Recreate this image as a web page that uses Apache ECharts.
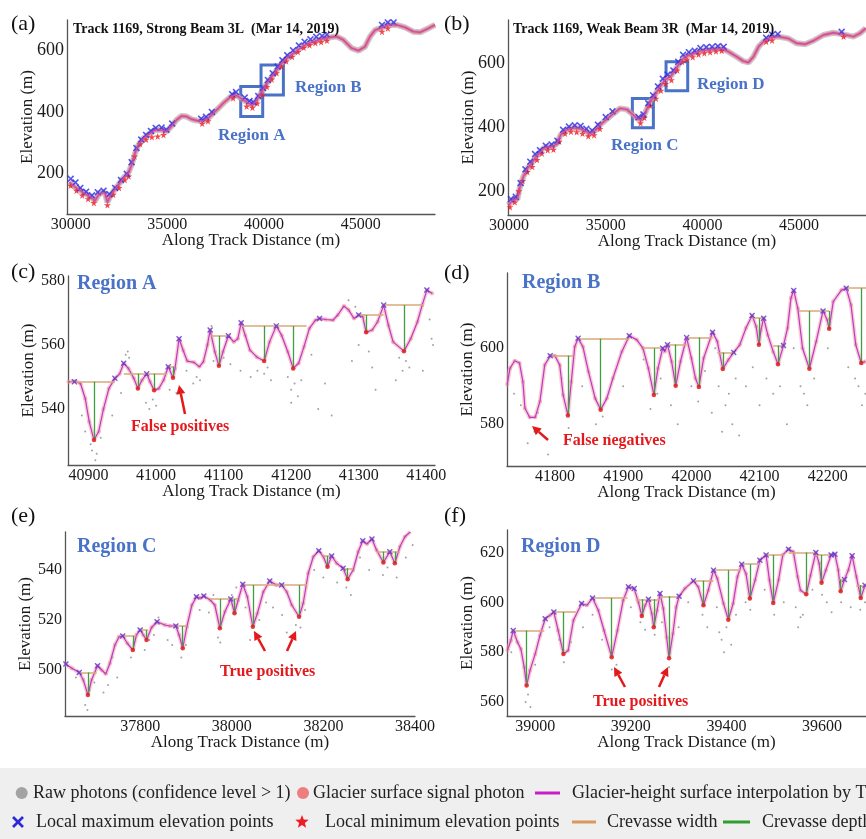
<!DOCTYPE html>
<html><head><meta charset="utf-8">
<script src="https://cdn.jsdelivr.net/npm/echarts@6/dist/echarts.min.js"></script>
<style>html,body{margin:0;padding:0;background:#fff}#c{width:866px;height:839px}</style>
</head><body><div id="c"></div><script>
// ---------------- DATA ----------------
// Panel (a) overview, Strong Beam 3L
const aTicksX = [30000, 35000, 40000, 45000];
const aTicksY = [200, 400, 600];
const aProfile = [[29930,170],[30310,151],[30655,137],[31000,124],[31260,110],[31430,129],[31600,137],[31775,135],[31900,105],[32035,124],[32200,140],[32465,162],[32720,184],[32980,200],[33150,227],[33325,265],[33500,292],[33760,314],[34100,330],[34360,341],[34710,341],[34960,336],[35220,354],[35480,374],[35740,387],[36000,385],[36260,376],[36515,372],[36860,371],[37120,380],[37380,396],[37640,412],[37900,429],[38240,448],[38500,456],[38670,450],[38930,439],[39190,429],[39395,422],[39620,439],[39880,466],[40140,493],[40400,515],[40660,537],[40915,559],[41170,575],[41520,591],[41860,608],[42210,621],[42550,629],[42900,637],[43330,643],[43760,646],[44100,635],[44530,608],[44880,600],[45220,613],[45480,646],[45740,667],[46000,673],[46430,684],[46860,684],[47290,676],[47720,662],[48070,660],[48500,673],[48840,684]];
const aMax = [[30000,182],[30250,170],[30500,152],[30800,140],[31100,128],[31400,138],[31700,143],[32000,132],[32300,152],[32600,178],[32900,198],[33150,236],[33400,282],[33650,310],[33900,325],[34150,338],[34400,348],[34700,349],[34950,342],[35250,362],[36750,378],[37000,384],[37300,400],[38350,458],[38550,465],[39000,447],[39250,436],[39450,432],[39700,452],[39950,478],[40200,504],[40450,526],[40700,548],[40950,569],[41200,585],[41500,601],[41800,617],[42100,629],[42400,637],[42700,645],[43000,648],[43250,652],[46100,684],[46400,692],[46700,692]];
const aMin = [[30000,160],[30300,143],[30600,128],[30900,116],[31200,103],[31900,96],[32200,130],[32500,152],[32800,178],[33000,190],[33300,255],[33600,295],[33900,310],[34200,318],[34500,320],[34800,325],[36800,362],[37100,370],[38400,445],[39100,418],[39400,414],[39650,428],[39900,455],[40150,482],[40400,506],[40650,527],[40900,548],[41150,565],[41450,580],[41750,596],[42050,610],[42350,618],[42650,625],[42950,628],[43250,633],[46100,662],[46400,673]];
const aBoxes = [[38793,385,39930,483],[39844,455,41000,553]];

// Panel (b) overview, Weak Beam 3R
const bTicksX = [30000, 35000, 40000, 45000];
const bTicksY = [200, 400, 600];
const bProfile = [[29960,156],[30224,174],[30430,174],[30570,214],[30740,245],[30950,271],[31170,287],[31400,308],[31600,320],[31775,334],[32000,338],[32200,339],[32465,347],[32670,376],[32980,393],[33330,398],[33670,396],[34020,386],[34190,379],[34450,389],[34700,407],[35050,425],[35400,443],[35740,459],[36090,456],[36340,443],[36600,428],[36810,422],[37030,443],[37290,480],[37550,501],[37800,527],[38070,548],[38410,563],[38760,595],[39100,621],[39530,631],[39960,640],[40480,644],[41000,647],[41340,637],[41770,621],[42120,607],[42380,603],[42640,621],[42900,652],[43150,668],[43500,681],[43930,684],[44450,678],[44880,663],[45310,660],[45740,671],[46260,689],[46770,696],[47290,691],[47810,684],[48140,694],[48450,710]];
const bMax = [[30100,175],[30350,182],[30600,225],[30850,268],[31100,292],[31350,316],[31600,328],[31900,342],[32200,346],[32500,358],[32800,392],[33100,402],[33400,406],[33700,404],[34000,395],[34300,390],[34600,408],[35000,432],[35350,450],[36700,432],[36950,440],[37200,475],[37450,500],[37700,528],[37950,552],[38200,565],[38500,578],[38750,605],[39000,627],[39300,635],[39600,640],[39900,648],[40200,651],[40500,652],[40800,654],[41100,652],[43300,680],[43600,690],[43900,692],[47200,699]];
const bMin = [[30050,150],[30300,165],[30500,200],[30700,232],[30950,260],[31200,276],[31450,298],[31700,318],[32000,328],[32300,330],[32600,355],[32900,380],[33200,386],[33500,385],[33800,380],[34100,372],[34400,375],[34700,395],[36800,413],[37000,430],[37300,468],[37600,490],[37850,515],[38100,536],[38400,548],[38700,578],[38950,605],[39200,612],[39500,620],[39800,628],[40100,632],[40400,635],[40700,638],[41000,640],[43300,668],[43600,672],[47300,684]];
const bBoxes = [[36379,398,37465,490],[38120,514,39240,605]];

// Panel (c) Region A
const cTicksX = [40900, 41000, 41100, 41200, 41300, 41400];
const cTicksY = [540, 560, 580];
const cProfile = [[40870,548.5],[40880,548.7],[40888,548],[40895,543.3],[40901,536],[40908,530.3],[40915,533],[40922,540],[40930,546.4],[40939,549.6],[40946,551],[40952,554.3],[40959,552.7],[40967,549.6],[40973,546.4],[40979,549],[40986,551],[40991,548.5],[40997,545.9],[41004,546.4],[41011,549],[41018,553.2],[41025,549.8],[41028,552.7],[41034,562],[41040,558.4],[41046,555],[41056,554.6],[41064,553.2],[41070,554.8],[41076,560],[41080,564.7],[41087,557.9],[41093,553.5],[41099,557.9],[41107,562.9],[41115,561],[41121,562],[41126,567],[41132,563],[41139,558.4],[41149,556.3],[41160,555],[41168,561],[41178,566],[41186,563],[41195,557.9],[41203,552.7],[41211,554.3],[41219,559.5],[41227,565.2],[41236,567.8],[41242,568.3],[41251,568],[41262,567.8],[41269,569.4],[41278,572.2],[41285,571],[41293,568.3],[41300,569.4],[41306,568.9],[41311,564],[41320,564.7],[41328,567.3],[41337,572.5],[41344,566.2],[41351,561],[41367,558.1],[41377,562],[41387,567.3],[41394,572.5],[41401,577.2],[41409,576.1]];
const cMax = [[40879,548.5],[40939,549.6],[40952,554.3],[40986,551],[41018,553.2],[41034,562],[41080,564.7],[41107,562.9],[41126,567],[41178,566],[41242,568.3],[41300,569.4],[41337,572.5],[41401,577.2]];
const cMin = [[40908,530.3],[40973,546.4],[40997,545.9],[41025,549.8],[41093,553.5],[41160,555],[41203,552.7],[41311,564],[41367,558.1]];
const cWidth = [[40872,40939,548.5],[40952,41016,551],[41018,41027,553.2],[41080,41107,562.9],[41126,41223,566],[41300,41337,569.4],[41337,41396,572.5]];
const cDepth = [[40908,548.5,530.3],[40973,551,546.4],[40997,551,545.9],[41025,553.2,549.8],[41093,562.9,553.5],[41160,566,555],[41203,566,552.7],[41311,569.4,564],[41367,572.5,558.1]];
const cRaw = [[40905,527],[40910,524],[40912,526],[40903,529],[40895,533],[40890,538],[40918,531],[40955,557],[40960,556],[40958,558],[40948,545],[40985,542],[40990,540],[41000,541],[40995,543],[41020,546],[41030,545],[41045,552],[41060,550],[41065,549],[41082,566],[41085,555],[41100,556],[41110,554],[41150,552],[41160,551],[41165,553],[41170,549],[41140,550],[41200,546],[41205,548],[41210,544],[41200,542],[41195,550],[41215,549],[41250,548],[41240,540],[41260,538],[41285,574],[41295,572],[41290,555],[41300,560],[41315,558],[41320,553],[41325,546],[41365,552],[41370,555],[41375,553],[41360,556],[41355,549],[41405,568],[41408,562],[41410,560],[41395,552],[41230,557],[41055,548],[40935,538],[41125,552]];

// Panel (d) Region B
const dTicksX = [41800, 41900, 42000, 42100, 42200];
const dTicksY = [580, 600];
const dProfile = [[41730,590.4],[41734,594.7],[41741,596.7],[41748,596.1],[41753,591.2],[41756,584.2],[41763,581.8],[41771,581.8],[41778,586],[41785,595.6],[41793,598],[41800,598],[41807,595.6],[41812,587.7],[41819,582.3],[41824,591.2],[41829,600.4],[41834,602.6],[41841,600.4],[41849,593.9],[41859,586.8],[41867,583.8],[41876,586.8],[41885,592.1],[41898,599.1],[41909,603.3],[41920,602.2],[41929,600],[41937,594.7],[41945,587.7],[41951,594.7],[41958,600],[41961,599.1],[41965,600.9],[41971,596.5],[41977,590.1],[41984,596.5],[41993,602.8],[42000,597.4],[42006,592.1],[42011,589.8],[42018,597.4],[42031,604.2],[42038,601.8],[42046,594.5],[42054,596.9],[42062,598.9],[42071,600.9],[42080,605.3],[42089,608.6],[42095,605.7],[42099,600.9],[42102,604.8],[42106,607.9],[42112,603.5],[42120,599.1],[42127,595.8],[42135,600.7],[42141,605.3],[42146,613.2],[42150,615.2],[42156,610.5],[42163,600],[42173,594.6],[42183,601.8],[42193,609.8],[42199,607.5],[42202,605.1],[42208,612.3],[42220,615.3],[42227,615.8],[42234,611.4],[42241,600.9],[42249,596.1],[42255,596.5]];
const dMax = [[41793,598],[41834,602.6],[41909,603.3],[41958,600],[41965,600.9],[41993,602.8],[42031,604.2],[42062,598.9],[42089,608.6],[42106,607.9],[42135,600.7],[42150,615.2],[42193,609.8],[42227,615.8]];
const dMin = [[41819,582.3],[41867,583.8],[41945,587.7],[41977,590.1],[42011,589.8],[42046,594.5],[42099,600.9],[42127,595.8],[42173,594.6],[42202,605.1],[42249,596.1]];
const dWidth = [[41793,41827,598],[41834,41909,602.5],[41929,41958,600],[41965,41993,601],[41993,42031,602.8],[42038,42062,598.9],[42089,42106,607.9],[42120,42135,600.7],[42158,42202,609.8],[42227,42256,615.8]];
const dDepth = [[41819,598,582.3],[41867,602.5,583.8],[41945,600,587.7],[41977,601,590.1],[42011,602.8,589.8],[42046,598.9,594.5],[42099,607.9,600.9],[42127,600.7,595.8],[42173,609.8,594.6],[42202,609.8,605.1],[42249,615.8,596.1]];
const dRaw = [[41760,575],[41770,578],[41790,572],[41820,579],[41822,576],[41870,582],[41880,577],[41940,584],[41950,588],[41970,585],[41980,580],[42010,586],[42030,583],[42040,590],[42045,578],[42050,585],[42060,580],[42070,577],[42080,590],[42090,595],[42110,592],[42120,588],[42150,600],[42160,590],[42170,585],[42180,592],[42200,600],[42230,595],[42245,590],[42250,585],[41740,588],[41750,585],[41840,590],[41900,590],[41930,597],[42000,590],[42100,585],[42140,580],[41810,592],[41860,580],[41955,592],[42020,594],[42035,600],[42055,588],[42065,592],[42130,590],[42165,588],[42240,592],[42255,588],[41775,583]];

// Panel (e) Region C
const eTicksX = [37800, 38000, 38200, 38400];
const eTicksY = [500, 520, 540];
const eProfile = [[37637,502.4],[37651,500.7],[37667,499],[37676,496],[37686,490],[37694,496],[37707,501.7],[37716,500],[37725,498.4],[37734,502.7],[37745,510],[37754,513.3],[37762,513.6],[37772,510.7],[37784,508],[37792,514],[37800,516],[37807,514],[37814,512],[37825,517],[37837,519.3],[37854,518],[37865,517.6],[37878,517.6],[37885,514],[37893,508.7],[37902,517.3],[37913,526],[37923,529.3],[37931,528.7],[37939,529.6],[37953,528],[37963,526],[37974,516.7],[37985,523.3],[37998,528.4],[38006,522.7],[38014,528],[38024,534.3],[38034,529.3],[38046,517.3],[38056,522.7],[38069,531.3],[38083,535.6],[38097,534],[38109,534],[38120,531.3],[38131,526],[38147,521.3],[38156,526.7],[38167,538.7],[38178,545.3],[38190,547.7],[38200,545.3],[38209,541.3],[38218,545.6],[38229,542.7],[38243,540.7],[38253,536.3],[38265,540],[38276,547.3],[38286,551.7],[38295,550.4],[38306,552.4],[38316,548],[38331,543],[38345,547.3],[38356,542.7],[38367,549.3],[38378,553.3],[38390,555.3]];
const eMax = [[37638,502.4],[37667,499],[37707,501.7],[37762,513.6],[37800,516],[37837,519.3],[37878,517.6],[37923,529.3],[37939,529.6],[37998,528.4],[38024,534.3],[38083,535.6],[38109,534],[38190,547.7],[38218,545.6],[38243,540.7],[38286,551.7],[38306,552.4],[38345,547.3]];
const eMin = [[37686,490],[37784,508],[37814,512],[37893,508.7],[37974,516.7],[38006,522.7],[38046,517.3],[38147,521.3],[38209,541.3],[38253,536.3],[38331,543],[38356,542.7]];
const eWidth = [[37667,37705,499],[37762,37792,513.6],[37800,37817,516],[37878,37902,517.6],[37953,37998,528.4],[37998,38014,528.4],[38024,38165,534],[38200,38218,545.6],[38243,38265,540.7],[38316,38367,547.3]];
const eDepth = [[37686,499,490],[37784,513.6,508],[37814,516,512],[37893,517.6,508.7],[37974,528.4,516.7],[38006,528.4,522.7],[38046,534,517.3],[38147,534,521.3],[38209,545.6,541.3],[38253,540.7,536.3],[38331,547.3,543],[38356,547.3,542.7]];
const eRaw = [[37680,486],[37685,484],[37690,492],[37700,495],[37720,491],[37740,505],[37780,505],[37810,508],[37820,512],[37840,521],[37860,512],[37890,505],[37900,510],[37950,523],[37970,513],[37975,511],[38000,530],[38010,533],[38030,525],[38050,515],[38060,520],[38090,525],[38110,522],[38140,518],[38150,517],[38180,540],[38200,537],[38230,535],[38250,533],[38280,545],[38300,540],[38330,538],[38360,537],[38380,545],[38395,550],[37750,497],[37870,510],[38120,515],[37660,497],[37730,494],[37830,514],[37930,524],[38040,512],[38075,527],[38160,524],[38260,530],[38340,541],[37960,530]];

// Panel (f) Region D
const fTicksX = [39000, 39200, 39400, 39600];
const fTicksY = [560, 580, 600, 620];
const fProfile = [[38942,580.7],[38949,584.7],[38954,588.7],[38963,584],[38970,581.3],[38977,574],[38982,566.6],[38989,572.6],[39000,579.3],[39010,586.7],[39021,593.4],[39031,594.8],[39039,596.1],[39048,588.7],[39059,579.3],[39069,580.7],[39080,592.8],[39097,599.5],[39108,598.8],[39120,601.7],[39132,596.8],[39144,588.7],[39160,578],[39172,588.7],[39184,600.8],[39195,606.2],[39207,605.5],[39216,600],[39223,594.5],[39230,598.8],[39237,601.2],[39244,595.4],[39248,590],[39255,596.8],[39261,603.5],[39268,597.5],[39275,586],[39280,577.6],[39288,587.4],[39295,598.1],[39301,602.4],[39313,605.5],[39331,608.6],[39341,606.2],[39352,598.8],[39362,604.8],[39373,612.9],[39381,609.5],[39394,599.5],[39404,593],[39414,599.5],[39423,610.2],[39432,615.3],[39441,611.5],[39449,601.5],[39460,608.9],[39470,616.9],[39483,619],[39490,608.9],[39498,599.7],[39509,608.9],[39518,619],[39530,621.3],[39540,620.3],[39549,610.2],[39555,604.8],[39567,603.2],[39576,610.9],[39587,620],[39594,615.6],[39599,607.8],[39608,612.9],[39619,619],[39627,619.3],[39634,612.9],[39639,604.4],[39647,609.1],[39655,612.9],[39663,618.7],[39672,610.2],[39681,601.7],[39690,606.8]];
const fMax = [[38954,588.7],[39021,593.4],[39039,596.1],[39097,599.5],[39120,601.7],[39195,606.2],[39207,605.5],[39237,601.2],[39261,603.5],[39301,602.4],[39331,608.6],[39373,612.9],[39432,615.3],[39470,616.9],[39483,619],[39530,621.3],[39587,620],[39619,619],[39627,619.3],[39647,609.1],[39663,618.7],[39690,606.8]];
const fMin = [[38982,566.6],[39059,579.3],[39160,578],[39223,594.5],[39248,590],[39280,577.6],[39352,598.8],[39404,593],[39449,601.5],[39498,599.7],[39567,603.2],[39599,607.8],[39639,604.4],[39681,601.7]];
const fWidth = [[38954,39019,588.7],[39039,39085,596.1],[39120,39193,601.7],[39210,39261,601.2],[39261,39301,602.4],[39331,39373,608.6],[39373,39430,612.9],[39432,39468,615.3],[39483,39520,619],[39530,39587,620],[39587,39619,619],[39634,39647,609.1],[39672,39690,606.8]];
const fDepth = [[38982,588.7,566.6],[39059,596.1,579.3],[39160,601.7,578],[39223,601.2,594.5],[39248,601.2,590],[39280,602.4,577.6],[39352,608.6,598.8],[39404,612.9,593],[39449,615.3,601.5],[39498,619,599.7],[39567,620,603.2],[39599,619,607.8],[39639,609.1,604.4],[39681,606.8,601.7]];
const fRaw = [[38950,580],[38980,560],[38985,563],[39000,575],[39050,585],[39060,576],[39100,590],[39140,585],[39160,573],[39170,575],[39200,598],[39220,592],[39250,587],[39280,574],[39300,590],[39320,600],[39350,595],[39360,590],[39380,598],[39390,585],[39395,580],[39400,590],[39420,595],[39440,600],[39450,597],[39480,605],[39500,595],[39520,600],[39545,598],[39550,590],[39560,595],[39580,605],[39600,603],[39620,596],[39640,600],[39660,598],[39680,597],[39690,600],[39030,590],[39120,595],[38990,558],[39075,584],[39230,589],[39265,592],[39385,588],[39410,583],[39555,594],[39610,600]];

// ---------------- CHART ----------------
const FONT = 'Liberation Serif';
const X_PATH = 'path://M0,1.6L1.6,0L5,3.4L8.4,0L10,1.6L6.6,5L10,8.4L8.4,10L5,6.6L1.6,10L0,8.4L3.4,5Z';
const STAR_PATH = 'path://M5,0L6.18,3.6L10,3.6L6.9,5.9L8.1,9.5L5,7.3L1.9,9.5L3.1,5.9L0,3.6L3.82,3.6Z';

const panels = [
  {grid:{left:67, top:20, width:368, height:194}, x:[29810,48840], y:[67,700], tx:aTicksX, ty:aTicksY, yf:18},
  {grid:{left:508, top:20, width:358, height:195}, x:[29948,48459], y:[125,736], tx:bTicksX, ty:bTicksY, yf:18},
  {grid:{left:68, top:276, width:367, height:189}, x:[40869.5,41413], y:[522.5,581.6], tx:cTicksX, ty:cTicksY, yf:16},
  {grid:{left:507, top:273, width:359, height:193}, x:[41729.7,42256], y:[569,619.8], tx:dTicksX, ty:dTicksY, yf:16},
  {grid:{left:65, top:532, width:350, height:184}, x:[37636,38400], y:[481.6,555.2], tx:eTicksX, ty:eTicksY, yf:16},
  {grid:{left:507, top:530, width:359, height:186}, x:[38941,39692], y:[554.4,629], tx:fTicksX, ty:fTicksY, yf:16}
];

const axisLineStyle = {color:'#555', width:1.3};
const plain = v => String(v);
const grid = panels.map(p => Object.assign({outerBoundsMode:'none', containLabel:false}, p.grid));
const xAxis = panels.map((p,i) => ({
  type:'value', gridIndex:i, min:p.x[0], max:p.x[1],
  axisLine:{show:true, onZero:false, lineStyle:axisLineStyle},
  axisTick:{show:false}, splitLine:{show:false},
  axisLabel:{customValues:p.tx, formatter:plain, fontFamily:FONT, fontSize:16, color:'#1a1a1a', margin:3, hideOverlap:false},
  name:'Along Track Distance (m)', nameLocation:'middle', nameGap:18, nameMoveOverlap:false,
  nameTextStyle:{fontFamily:FONT, fontSize:17, color:'#1a1a1a'}
}));
const yAxis = panels.map((p,i) => ({
  type:'value', gridIndex:i, min:p.y[0], max:p.y[1],
  axisLine:{show:true, onZero:false, lineStyle:axisLineStyle},
  axisTick:{show:false}, splitLine:{show:false},
  axisLabel:{customValues:p.ty, formatter:plain, fontFamily:FONT, fontSize:p.yf, color:'#1a1a1a', margin:3, hideOverlap:false},
  name:'Elevation (m)', nameLocation:'middle', nameGap:31, nameMoveOverlap:false,
  nameTextStyle:{fontFamily:FONT, fontSize:17, color:'#1a1a1a'}
}));

function overviewSeries(i, prof, maxs, mins, boxes){
  const ax = {xAxisIndex:i, yAxisIndex:i, silent:true, animation:false};
  return [
    Object.assign({type:'line', data:prof, symbol:'none', lineStyle:{color:'#9c9c9c', width:6, opacity:0.55}, z:1}, ax),
    Object.assign({type:'line', data:prof, symbol:'none', lineStyle:{color:'#f0849a', width:3.5}, z:2}, ax),
    Object.assign({type:'scatter', data:mins, symbol:STAR_PATH, symbolSize:7, itemStyle:{color:'#ec1c24'}, z:3}, ax),
    Object.assign({type:'scatter', data:maxs, symbol:X_PATH, symbolSize:7, itemStyle:{color:'#2b2be6'}, z:4}, ax),
    Object.assign({type:'line', data:prof, symbol:'none', lineStyle:{color:'#c24fa6', width:1.4}, z:5,
      markArea:{silent:true, itemStyle:{color:'rgba(0,0,0,0)', borderColor:'#4a73c8', borderWidth:3},
        data: boxes.map(b => [{xAxis:b[0], yAxis:b[1]}, {xAxis:b[2], yAxis:b[3]}])}}, ax)
  ];
}
function detailSeries(i, prof, maxs, mins, widths, depths, raw){
  const ax = {xAxisIndex:i, yAxisIndex:i, silent:true, animation:false};
  return [
    Object.assign({type:'scatter', data:raw, symbol:'circle', symbolSize:2, itemStyle:{color:'#6e6e6e', opacity:0.65}, z:1}, ax),
    Object.assign({type:'line', data:prof, symbol:'none', lineStyle:{color:'#f6a3ad', width:4, opacity:0.55}, z:2}, ax),
    Object.assign({type:'scatter', data:prof, symbol:'circle', symbolSize:4, itemStyle:{color:'#f08a96', opacity:0.5}, z:2}, ax),
    Object.assign({type:'line', data:prof, symbol:'none', lineStyle:{color:'#b83cc8', width:1.2}, z:3}, ax),
    Object.assign({type:'lines', coordinateSystem:'cartesian2d', data:widths.map(w => ({coords:[[w[0],w[2]],[w[1],w[2]]]})),
      lineStyle:{color:'#d9aa78', width:1.6, opacity:1}, z:4}, ax),
    Object.assign({type:'lines', coordinateSystem:'cartesian2d', data:depths.map(d => ({coords:[[d[0],d[1]],[d[0],d[2]]]})),
      lineStyle:{color:'#3f9e3f', width:1.3, opacity:1}, z:5}, ax),
    Object.assign({type:'scatter', data:mins, symbol:'circle', symbolSize:4.5, itemStyle:{color:'#e31a1c'}, z:6}, ax),
    Object.assign({type:'scatter', data:maxs, symbol:X_PATH, symbolSize:6, itemStyle:{color:'#5a34d0'}, z:6}, ax)
  ];
}

const series = [].concat(
  overviewSeries(0, aProfile, aMax, aMin, aBoxes),
  overviewSeries(1, bProfile, bMax, bMin, bBoxes),
  detailSeries(2, cProfile, cMax, cMin, cWidth, cDepth, cRaw),
  detailSeries(3, dProfile, dMax, dMin, dWidth, dDepth, dRaw),
  detailSeries(4, eProfile, eMax, eMin, eWidth, eDepth, eRaw),
  detailSeries(5, fProfile, fMax, fMin, fWidth, fDepth, fRaw)
);

// ---------------- ANNOTATIONS ----------------
const RED = '#e3191c', BLUE = '#4a73c8';
function txt(text, x, y, size, opts){
  opts = opts || {};
  return {type:'text', z:100, style:{text:text, x:x, y:y, fill:opts.fill||'#111',
    font:(opts.bold?'bold ':'') + size + 'px "' + FONT + '"', textAlign:opts.align||'left', textVerticalAlign:'middle'}};
}
function arrow(x1,y1,x2,y2){
  const ang = Math.atan2(y2-y1, x2-x1), L = 9, W = 4.5;
  const bx = x2 - L*Math.cos(ang), by = y2 - L*Math.sin(ang);
  const px = -Math.sin(ang)*W, py = Math.cos(ang)*W;
  return [
    {type:'line', z:100, shape:{x1:x1, y1:y1, x2:bx, y2:by}, style:{stroke:RED, lineWidth:2.5}},
    {type:'polygon', z:100, shape:{points:[[x2,y2],[bx+px,by+py],[bx-px,by-py]]}, style:{fill:RED}}
  ];
}
function starPts(cx, cy, R, r){
  const pts = [];
  for (let k = 0; k < 10; k++){
    const a = -Math.PI/2 + k*Math.PI/5, rr = (k%2===0) ? R : r;
    pts.push([cx + rr*Math.cos(a), cy + rr*Math.sin(a)]);
  }
  return pts;
}

const LF = 18; // legend font size
const graphic = [
  txt('(a)', 11, 24, 22), txt('(b)', 444, 24, 22),
  txt('(c)', 11, 272, 22), txt('(d)', 444, 273, 22),
  txt('(e)', 11, 516, 22), txt('(f)', 444, 516, 22),
  txt('Track 1169, Strong Beam 3L  (Mar 14, 2019)', 73, 29, 14, {bold:true}),
  txt('Track 1169, Weak Beam 3R  (Mar 14, 2019)', 513, 29, 14, {bold:true}),
  txt('Region A', 218, 136, 17, {bold:true, fill:BLUE}),
  txt('Region B', 295, 88, 17, {bold:true, fill:BLUE}),
  txt('Region C', 611, 146, 17, {bold:true, fill:BLUE}),
  txt('Region D', 697, 85, 17, {bold:true, fill:BLUE}),
  txt('Region A', 77, 284, 20, {bold:true, fill:BLUE}),
  txt('Region B', 522, 283, 20, {bold:true, fill:BLUE}),
  txt('Region C', 77, 547, 20, {bold:true, fill:BLUE}),
  txt('Region D', 521, 547, 20, {bold:true, fill:BLUE}),
  txt('False positives', 131, 427, 16, {bold:true, fill:RED}),
  txt('False negatives', 563, 441, 16, {bold:true, fill:RED}),
  txt('True positives', 220, 672, 16, {bold:true, fill:RED}),
  txt('True positives', 593, 702, 16, {bold:true, fill:RED})
].concat(
  arrow(185,414,179,385),
  arrow(548,440,532,426),
  arrow(265,651,254,631), arrow(287,651,296,631),
  arrow(625,687,614,667), arrow(659,687,668,667),
  [
    {type:'rect', z:90, shape:{x:0, y:768, width:866, height:71}, style:{fill:'#efefef'}},
    {type:'circle', z:100, shape:{cx:21.7, cy:793, r:6}, style:{fill:'#a3a3a3'}},
    txt('Raw photons (confidence level > 1)', 33, 793, LF, {fill:'#222'}),
    {type:'circle', z:100, shape:{cx:303, cy:793, r:6}, style:{fill:'#ee7d80'}},
    txt('Glacier surface signal photon', 313, 793, LF, {fill:'#222'}),
    {type:'line', z:100, shape:{x1:535, y1:793, x2:560, y2:793}, style:{stroke:'#c81ec8', lineWidth:3}},
    txt('Glacier-height surface interpolation by T', 572, 793, LF, {fill:'#222'}),
    {type:'line', z:100, shape:{x1:13, y1:817, x2:23, y2:827}, style:{stroke:'#2a2ad8', lineWidth:2.6}},
    {type:'line', z:100, shape:{x1:23, y1:817, x2:13, y2:827}, style:{stroke:'#2a2ad8', lineWidth:2.6}},
    txt('Local maximum elevation points', 36, 822, LF, {fill:'#222'}),
    {type:'polygon', z:100, shape:{points:starPts(302, 822, 7, 3)}, style:{fill:'#ee1c24'}},
    txt('Local minimum elevation points', 325, 822, LF, {fill:'#222'}),
    {type:'line', z:100, shape:{x1:572, y1:822, x2:596, y2:822}, style:{stroke:'#d9985e', lineWidth:3}},
    txt('Crevasse width', 607, 822, LF, {fill:'#222'}),
    {type:'line', z:100, shape:{x1:723, y1:822, x2:750, y2:822}, style:{stroke:'#2e9e2e', lineWidth:3}},
    txt('Crevasse depth', 762, 822, LF, {fill:'#222'})
  ]
);

const chart = echarts.init(document.getElementById('c'), null, {renderer:'canvas'});
chart.setOption({
  animation:false,
  backgroundColor:'#ffffff',
  grid: grid, xAxis: xAxis, yAxis: yAxis, series: series, graphic: graphic
});
</script></body></html>
